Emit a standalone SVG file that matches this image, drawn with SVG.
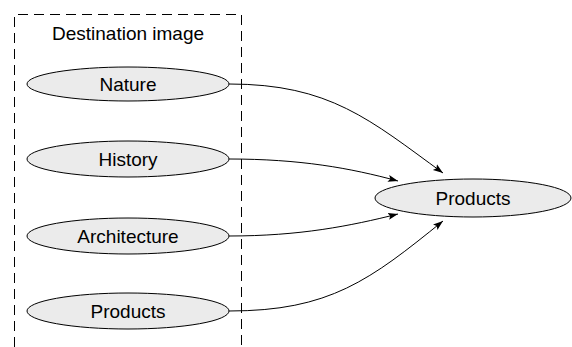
<svg xmlns="http://www.w3.org/2000/svg" width="572" height="347" viewBox="0 0 572 347">
<style>
.n ellipse{fill:#ebebeb;stroke:#000;stroke-width:1}
text{font-family:"Liberation Sans",Arial,sans-serif;font-size:19px;fill:#000;text-anchor:middle}
.c path{fill:none;stroke:#000;stroke-width:1;marker-end:url(#ah)}
</style>
<defs>
<marker id="ah" viewBox="0 0 10 10" refX="10" refY="5" markerWidth="10" markerHeight="10" markerUnits="userSpaceOnUse" orient="auto">
<path d="M0,1.5 L10,5 L0,8.5 L2,5 Z" fill="#000"/>
</marker>
</defs>
<g id="group">
<path d="M14.5,347 V14.5 H241.5 V347" fill="none" stroke="#000" stroke-width="1" stroke-dasharray="10,6"/>
<text x="128" y="40">Destination image</text>
</g>
<g id="nature" class="n"><ellipse cx="128" cy="84" rx="101" ry="17"/><text x="128" y="91">Nature</text></g>
<g id="history" class="n"><ellipse cx="128" cy="159" rx="101" ry="18"/><text x="128" y="166">History</text></g>
<g id="architecture" class="n"><ellipse cx="128" cy="236" rx="101" ry="18"/><text x="128" y="243">Architecture</text></g>
<g id="products1" class="n"><ellipse cx="128" cy="311" rx="101" ry="18"/><text x="128" y="318">Products</text></g>
<g id="products2" class="n"><ellipse cx="473" cy="198" rx="98" ry="19"/><text x="473" y="205">Products</text></g>
<g class="c" id="connectors">
<path d="M229,84 C330,84 370,120 443,173"/>
<path d="M229,159 C300,159 350,168 398,181"/>
<path d="M229,236 C300,236 350,226 398,214"/>
<path d="M229,311 C330,311 370,280 443,221"/>
</g>
</svg>
